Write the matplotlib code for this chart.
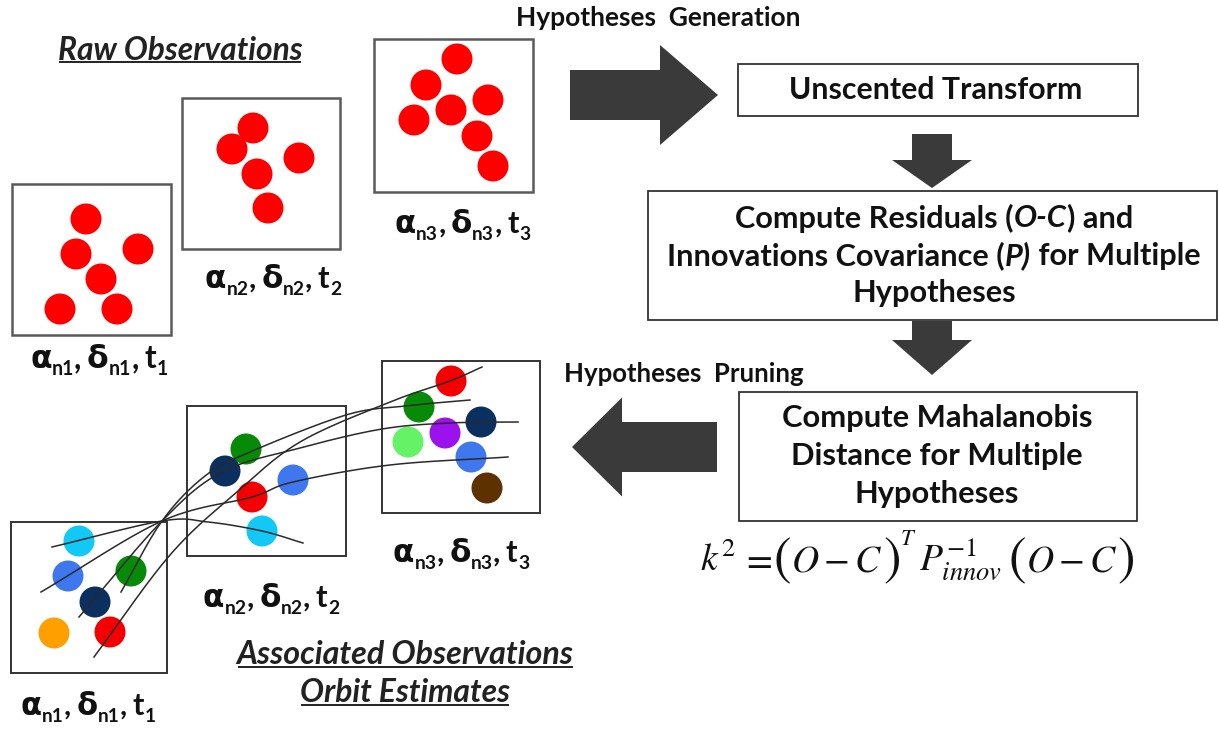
import numpy as np
import matplotlib
matplotlib.use("Agg")
import matplotlib.pyplot as plt
from matplotlib.patches import Rectangle, Circle, FancyArrow

# ---------------- data ----------------
# raw observations (red dots) per frame t1, t2, t3
raw_t1_x = [86, 76, 138, 101, 60, 117]
raw_t1_y = [219, 254, 249, 279, 309, 309]
raw_t2_x = [253, 232, 299, 257, 268]
raw_t2_y = [128, 149, 158, 174, 208]
raw_t3_x = [457, 426, 488, 451, 414, 477, 493]
raw_t3_y = [59, 85, 100, 110, 120, 136, 166]

# associated observations (coloured dots)
assoc_t1_x = [79, 68, 131, 95, 54, 110]
assoc_t1_y = [541, 576, 571, 602, 633, 632]
assoc_t1_c = ["#12c8f4", "#3f78ee", "#078a07", "#0b2f5e", "#ff9f00", "#f50000"]
assoc_t2_x = [246, 225, 293, 252, 262]
assoc_t2_y = [449, 471, 480, 497, 531]
assoc_t2_c = ["#078a07", "#0b2f5e", "#3f78ee", "#f50000", "#12c8f4"]
assoc_t3_x = [451, 419, 481, 445, 408, 471, 487]
assoc_t3_y = [381, 407, 422, 433, 442, 457, 488]
assoc_t3_c = ["#f50000", "#078a07", "#0b2f5e", "#9b12ec", "#66f266", "#3f78ee", "#5e3200"]

# orbit estimate tracks (waypoints)
track_cyan_x = [52, 162, 208, 262, 303]
track_cyan_y = [547, 521, 522, 531, 543]
track_blue_x = [41, 162, 252, 293, 390, 508]
track_blue_y = [592, 521, 497, 482, 465, 457]
track_navy_x = [79, 162, 222, 300, 382, 450, 518]
track_navy_y = [617, 521, 472, 448, 429, 423, 422]
track_green_x = [121, 162, 205, 250, 346, 405, 470]
track_green_y = [592, 521, 476, 452, 415, 406, 400]
track_red_x = [94, 170, 237, 300, 390, 450, 482]
track_red_y = [657, 555, 492, 442, 402, 381, 367]

frame_ids = ["1", "2", "3"]

title_raw = "Raw Observations"
title_assoc = ["Associated Observations", "Orbit Estimates"]
label_gen = "Hypotheses  Generation"
label_prune = "Hypotheses  Pruning"
box_ut = "Unscented Transform"
box_res = [[("Compute Residuals (", "normal"), ("O-C", "italic"), (") and", "normal")],
           [("Innovations Covariance (", "normal"), ("P)", "italic"), (" for Multiple", "normal")],
           [("Hypotheses", "normal")]]
box_mah = ["Compute Mahalanobis", "Distance for Multiple", "Hypotheses"]
# formula pieces: (mathtext, scale, drop in em, gap after in em)
formula_pieces = [(r"$k^{2}$", 1.0, 0.0, 0.14), (r"$=$", 1.0, 0.0, 0.03),
                  (r"$($", 1.4, 0.09, 0.0), (r"$O-C$", 1.0, 0.0, 0.0),
                  (r"$)$", 1.4, 0.09, 0.0), (r"$T$", 0.6, -0.68, 0.08),
                  (r"$P_{innov}^{-1}$", 1.0, 0.0, 0.14),
                  (r"$($", 1.4, 0.09, 0.0), (r"$O-C$", 1.0, 0.0, 0.0),
                  (r"$)$", 1.4, 0.09, 0.0)]

# ---------------- figure ----------------
W, H = 1219, 730
fig = plt.figure(figsize=(W / 100, H / 100), dpi=100)
ax = fig.add_axes([0, 0, 1, 1])
ax.set_xlim(0, W)
ax.set_ylim(H, 0)
ax.axis("off")
renderer = fig.canvas.get_renderer()
FONT = "Lato"
ARROW_C = "#3a3a3a"
PT = 100 / 72


def width_of(t):
    return t.get_window_extent(renderer).width


def fit_text(x, y, s, target_w, **kw):
    t = ax.text(x, y, s, fontsize=10, ha="center", va="center", **kw)
    t.set_fontsize(10 * target_w / width_of(t))
    return t


def runs_line(xc, y, runs, size, **kw):
    objs, widths = [], []
    for s, st in runs:
        t = ax.text(0, y, s, fontsize=size, fontstyle=st, ha="left", va="center",
                    family=FONT, fontweight="bold", **kw)
        objs.append(t)
        widths.append(width_of(t))
    total = sum(widths)
    x = xc - total / 2
    for t, w in zip(objs, widths):
        t.set_x(x)
        x += w
    return total


def run_width(runs, size):
    tot = 0
    for s, st in runs:
        t = ax.text(0, 0, s, fontsize=size, fontstyle=st, family=FONT, fontweight="bold")
        tot += width_of(t)
        t.remove()
    return tot


def pieces_fit(x0, x1, baseline, pieces, **kw):
    def build(S):
        objs, x = [], x0
        for s, sc, drop, gap in pieces:
            t = ax.text(x, baseline + drop * S * PT, s, fontsize=S * sc,
                        ha="left", va="baseline", color="#111111", **kw)
            x += width_of(t) + gap * S * PT
            objs.append(t)
        return objs, x - x0

    objs, w = build(10)
    for o in objs:
        o.remove()
    build(10 * (x1 - x0) / w)


def coord_label(x0, x1, baseline, idx):
    def build(S):
        pcs = [("α", "DejaVu Sans", 1.0, 0.0, 0.0), ("n" + idx, FONT, 0.62, 0.22, 0.0),
               (",", FONT, 1.0, 0.0, 0.18),
               ("δ", "DejaVu Sans", 1.0, 0.0, 0.0), ("n" + idx, FONT, 0.62, 0.22, 0.0),
               (",", FONT, 1.0, 0.0, 0.18),
               ("t", FONT, 1.0, 0.0, 0.02), (idx, FONT, 0.62, 0.22, 0.0)]
        objs, x = [], x0
        for s, fam, sc, drop, gap in pcs:
            t = ax.text(x, baseline + drop * S * PT, s, fontsize=S * sc, family=fam,
                        fontweight="bold", ha="left", va="baseline", color="#111111")
            x += width_of(t) + gap * S * PT
            objs.append(t)
        return objs, x - x0

    objs, w = build(10)
    for o in objs:
        o.remove()
    build(10 * (x1 - x0) / w)


def underline(t, y):
    bb = t.get_window_extent(renderer)
    inv = ax.transData.inverted()
    (x0, _), (x1, _) = inv.transform([(bb.x0, bb.y0), (bb.x1, bb.y1)])
    ax.plot([x0 + 1, x1 - 1], [y, y], color="#222222", lw=1.4, solid_capstyle="butt")


def catmull(xs, ys, n=24):
    p = np.column_stack([xs, ys]).astype(float)
    p = np.vstack([2 * p[0] - p[1], p, 2 * p[-1] - p[-2]])
    out = []
    for i in range(1, len(p) - 2):
        p0, p1, p2, p3 = p[i - 1], p[i], p[i + 1], p[i + 2]
        tt = np.linspace(0, 1, n, endpoint=False)[:, None]
        seg = 0.5 * ((2 * p1) + (-p0 + p2) * tt + (2 * p0 - 5 * p1 + 4 * p2 - p3) * tt ** 2
                     + (-p0 + 3 * p1 - 3 * p2 + p3) * tt ** 3)
        out.append(seg)
    out.append(p[-2][None, :])
    c = np.vstack(out)
    return c[:, 0], c[:, 1]


def frame(x0, y0, x1, y1, ec="#5a5a5a", lw=1.8):
    ax.add_patch(Rectangle((x0, y0), x1 - x0, y1 - y0, fill=False, ec=ec, lw=lw, zorder=2))


def dots(xs, ys, colors, r=15.5):
    if isinstance(colors, str):
        colors = [colors] * len(xs)
    for x, y, c in zip(xs, ys, colors):
        ax.add_patch(Circle((x, y), r, fc=c, ec="none", zorder=3))


# ---------- raw observations ----------
frame(12, 184, 171, 335)
frame(182, 98, 340, 249)
frame(374, 39, 533, 192)
dots(raw_t1_x, raw_t1_y, "#ff0000")
dots(raw_t2_x, raw_t2_y, "#ff0000")
dots(raw_t3_x, raw_t3_y, "#ff0000")

t = fit_text(180, 50, title_raw, 245, family=FONT, fontweight="bold", fontstyle="italic",
             color="#222222")
underline(t, 62)

for (xa, xb, yb), idx in zip([(30, 168, 368), (205, 341, 288), (395, 530, 233)], frame_ids):
    coord_label(xa, xb, yb, idx)

# ---------- associated observations ----------
frame(11, 522, 167, 673, ec="#333333", lw=1.4)
frame(187, 406, 346, 556, ec="#333333", lw=1.4)
frame(382, 361, 540, 513, ec="#333333", lw=1.4)
dots(assoc_t1_x, assoc_t1_y, assoc_t1_c)
dots(assoc_t2_x, assoc_t2_y, assoc_t2_c)
dots(assoc_t3_x, assoc_t3_y, assoc_t3_c)

for tx, ty in [(track_cyan_x, track_cyan_y), (track_blue_x, track_blue_y),
               (track_navy_x, track_navy_y), (track_green_x, track_green_y),
               (track_red_x, track_red_y)]:
    cx, cy = catmull(tx, ty)
    ax.plot(cx, cy, color="#2a2a2a", lw=1.1, zorder=4)

for (xa, xb, yb), idx in zip([(21, 155, 715), (203, 339, 607), (393, 529, 562)], frame_ids):
    coord_label(xa, xb, yb, idx)

t = fit_text(405, 654, title_assoc[0], 337, family=FONT, fontweight="bold", fontstyle="italic",
             color="#222222")
underline(t, 667)
t = fit_text(405, 692, title_assoc[1], 211, family=FONT, fontweight="bold", fontstyle="italic",
             color="#222222")
underline(t, 705)

# ---------- flow chart ----------
fit_text(658, 18, label_gen, 286, family=FONT, fontweight="bold", color="#111111")
fit_text(684, 374, label_prune, 240, family=FONT, fontweight="bold", color="#111111")

ax.add_patch(FancyArrow(570, 95, 148, 0, width=50, head_width=100, head_length=58,
                        length_includes_head=True, fc=ARROW_C, ec="none"))
ax.add_patch(FancyArrow(717, 447, -145, 0, width=50, head_width=99, head_length=50,
                        length_includes_head=True, fc=ARROW_C, ec="none"))
ax.add_patch(FancyArrow(932, 134, 0, 54, width=40, head_width=80, head_length=28,
                        length_includes_head=True, fc=ARROW_C, ec="none"))
ax.add_patch(FancyArrow(932, 321, 0, 54, width=40, head_width=80, head_length=35,
                        length_includes_head=True, fc=ARROW_C, ec="none"))

frame(738, 64, 1138, 116, ec="#333333", lw=1.3)
fit_text(936, 90, box_ut, 294, family=FONT, fontweight="bold", color="#111111")

frame(648, 191, 1217, 320, ec="#333333", lw=1.3)
res_size = 10 * 536 / run_width(box_res[1], 10)
for runs, yy in zip(box_res, [218, 256, 293]):
    runs_line(934, yy, runs, res_size, color="#111111")

frame(739, 392, 1137, 521, ec="#333333", lw=1.3)
mt = fit_text(937, 418, box_mah[0], 310, family=FONT, fontweight="bold", color="#111111")
msize = mt.get_fontsize()
for s, yy in zip(box_mah[1:], [456, 494]):
    ax.text(937, yy, s, fontsize=msize, ha="center", va="center", family=FONT,
            fontweight="bold", color="#111111")

pieces_fit(700, 1168, 571, formula_pieces, math_fontfamily="stix")

fig.savefig("out.png", dpi=100, facecolor="white")
